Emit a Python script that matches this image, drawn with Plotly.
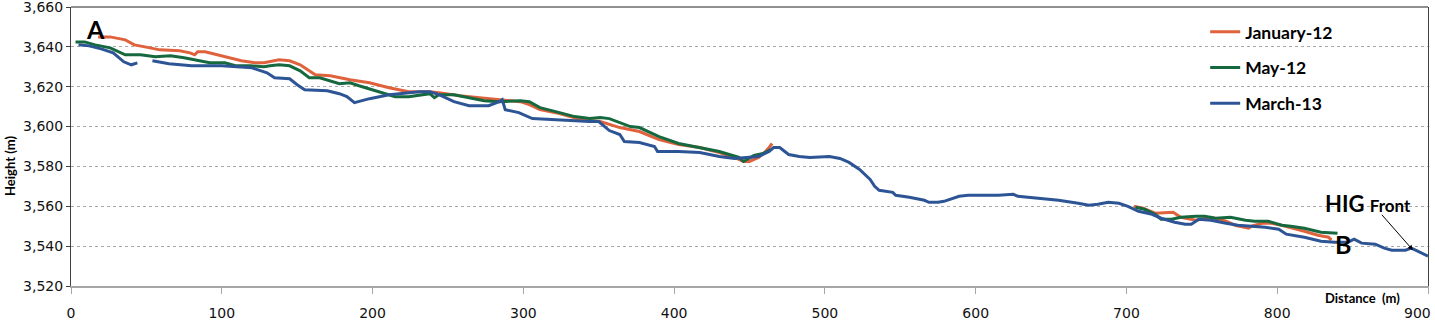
import plotly.graph_objects as go

# ---- data ----
jan_x = [18, 26, 36, 42, 49, 59, 72, 79, 82, 84, 89, 99, 113, 122, 128, 138, 145, 152, 157, 162,
         172, 185, 198, 211, 224, 238, 244, 258, 271, 284, 298, 304, 311, 324, 338, 351, 364, 377,
         390, 403, 417, 430, 440, 446, 450, 456, 460, 463, 465,
         None,
         705, 711, 719, 726, 731, 736, 746, 756, 766, 772, 781, 783, 790, 796, 803, 818, 827, 834, 836]
jan_y = [3645, 3645, 3643.5, 3641, 3640, 3638.5, 3638, 3637, 3636, 3637.5, 3637.5, 3635.5, 3633, 3632,
         3632, 3633.5, 3633, 3631, 3628.5, 3626, 3625.5, 3623.5, 3622, 3619.5, 3617.5, 3617.5, 3617,
         3615.5, 3614.5, 3613.5, 3612.5, 3611, 3608.5, 3606.5, 3603.5, 3602.5, 3599.5, 3597.5, 3593.5,
         3591, 3589.5, 3587, 3584.5, 3582.5, 3582.5, 3584.5, 3587, 3589.5, 3591.5,
         None,
         3560, 3559, 3556.5, 3557, 3557, 3554.5, 3553, 3554.5, 3552.5, 3550.5, 3549, 3550, 3551.5,
         3551.5, 3550.5, 3547.5, 3545.5, 3544.5, 3543]

may_x = [3, 9, 16, 26, 36, 46, 56, 66, 75, 82, 92, 102, 109, 119, 128, 132, 138, 145, 152, 158, 165,
         178, 185, 191, 205, 215, 224, 234, 238, 241, 244, 254, 264, 274, 284, 298, 304, 311, 324, 334,
         344, 351, 357, 364, 371, 377, 390, 403, 417, 430, 443, 446, 453, 459, 464,
         None,
         706, 712, 719, 723, 730, 736, 746, 752, 759, 766, 769, 779, 785, 794, 803, 809, 818, 829, 840]
may_y = [3642.5, 3642.5, 3641, 3639.5, 3636, 3636, 3635, 3635.5, 3634.5, 3633.5, 3632, 3632, 3630.5,
         3630.5, 3630, 3630.5, 3631, 3630.5, 3628, 3624.5, 3624.5, 3621.5, 3622, 3620.5, 3617.5, 3615,
         3615, 3616, 3616.5, 3614.5, 3616, 3616, 3614.5, 3613, 3612.5, 3613, 3612.5, 3609.5, 3607, 3605,
         3604, 3604.5, 3604, 3602, 3600, 3599.5, 3595, 3591.5, 3589.5, 3587.5, 3584.5, 3582.5, 3585.5,
         3586.5, 3588.5,
         None,
         3559.5, 3558.5, 3556, 3553.5, 3553.5, 3554.5, 3555, 3555, 3554, 3554.5, 3554.5, 3553, 3552.5,
         3552.5, 3550.5, 3550, 3549, 3547, 3546.5]

mar_x = [5, 12, 20, 28, 35, 40, 44,
         None,
         54, 65, 80, 100, 120, 130, 135, 145, 150, 155, 170, 178, 183, 188, 198, 211, 231, 238, 244,
         254, 264, 277, 284, 286, 288, 297, 306, 317, 330, 344, 350, 357, 364, 367, 377, 387, 389, 403,
         417, 430, 440, 446, 456, 463, 466, 470, 476, 483, 490, 503, 510, 516, 523, 530, 533, 536, 543,
         545, 547, 556, 566, 569, 575, 579, 589, 595, 615, 625, 628, 642, 655, 668, 675, 681, 688, 695,
         701, 708, 717, 723, 732, 739, 743, 748, 756, 766, 774, 783, 792, 801, 806, 818, 829, 838, 847,
         851, 856, 865, 871, 876, 885, 889, 900]
mar_y = [3641, 3640.5, 3639, 3637, 3632.5, 3631, 3632,
         None,
         3633, 3631.5, 3630.5, 3630.5, 3629.5, 3627, 3624.5, 3624, 3621, 3618.5, 3618, 3616.5, 3615,
         3612, 3614, 3616, 3617.5, 3617.5, 3616, 3612.5, 3610.5, 3610.5, 3612.5, 3613.5, 3608.5, 3607,
         3604, 3603.5, 3603, 3602.5, 3602.5, 3598, 3596, 3592.5, 3592, 3590, 3587.5, 3587.5, 3587, 3585,
         3584, 3584.5, 3585, 3587.5, 3589.5, 3589.5, 3586, 3585, 3584.5, 3585, 3584, 3582, 3578.5,
         3573.5, 3570, 3568, 3567, 3567, 3565.5, 3564.5, 3563, 3562, 3562, 3562.5, 3565, 3565.5, 3565.5,
         3566, 3565, 3564, 3563, 3561.5, 3560.5, 3561, 3562, 3561.5, 3560, 3557.5, 3556, 3554, 3552,
         3551, 3551, 3553.5, 3553, 3551.5, 3550.5, 3550, 3549.5, 3548.5, 3546, 3544.5, 3542.5, 3542,
         3542, 3543.5, 3541.5, 3541, 3539, 3538, 3538, 3539, 3535]

series_names = ["January-12", "May-12", "March-13"]
series_colors = ["#E0623C", "#16693F", "#2D5595"]

y_ticks = [3520, 3540, 3560, 3580, 3600, 3620, 3640, 3660]
x_ticks = [0, 100, 200, 300, 400, 500, 600, 700, 800, 900]
# last label (900) is drawn separately, nudged left so it stays inside the page
x_tick_labels = ["0", "100", "200", "300", "400", "500", "600", "700", "800", ""]
last_x_label = "900"

fig = go.Figure()
for i, (xs, ys) in enumerate([(jan_x, jan_y), (may_x, may_y), (mar_x, mar_y)]):
    fig.add_trace(go.Scatter(
        x=xs, y=ys, mode="lines", name=series_names[i], legendgroup=series_names[i],
        line=dict(color=series_colors[i], width=3), connectgaps=False))

bold = dict(family="Lato", weight="bold", color="black")
tickfont = dict(family="DejaVu Sans", size=14, color="#111")

fig.update_layout(
    width=1435, height=322,
    margin=dict(l=71, r=7, t=7, b=36, autoexpand=False),
    paper_bgcolor="white", plot_bgcolor="white",
    showlegend=True,
    legend=dict(x=0.8358, y=0.975, xanchor="left", yanchor="top",
                font=dict(family="Lato", weight="bold", size=17.5, color="black"),
                bgcolor="rgba(0,0,0,0)", tracegroupgap=10, itemwidth=30),
    xaxis=dict(range=[0, 900], tickvals=x_ticks, ticktext=x_tick_labels,
               showgrid=False, zeroline=False,
               showline=True, linecolor="#a6a6a6", linewidth=2, automargin=False,
               ticks="outside", ticklen=6, tickcolor="#a6a6a6", tickwidth=1,
               ticklabelstandoff=7, ticklabeloverflow="allow", tickfont=tickfont),
    yaxis=dict(range=[3520, 3660], tickvals=y_ticks, tickformat=",", automargin=False,
               showgrid=True, gridcolor="#a8a8a8", gridwidth=1, griddash="3px,3px",
               zeroline=False, showline=True, linecolor="#404040", linewidth=1, mirror=True,
               ticks="outside", ticklen=4, tickcolor="#404040", ticklabeloverflow="allow",
               tickfont=tickfont),
)

fig.add_shape(type="line", xref="paper", yref="paper", x0=0, x1=1, y0=1, y1=1,
              line=dict(color="#222", width=1))

fig.add_annotation(text=last_x_label, xref="paper", yref="paper", x=1.0035, y=-0.0968,
                   xanchor="right", yanchor="middle", showarrow=False, font=tickfont)
fig.add_annotation(text="Height (m)", xref="paper", yref="paper", x=-0.045, y=0.43,
                   xanchor="center", yanchor="middle",
                   textangle=-90, showarrow=False, font=dict(size=13, **bold))
fig.add_annotation(text="Distance  (m)", xref="paper", yref="paper", x=0.9805, y=-0.043,
                   xanchor="right", yanchor="middle", showarrow=False, font=dict(size=13, **bold))
fig.add_annotation(text="A", x=16, y=3649, xanchor="center", yanchor="middle",
                   showarrow=False, font=dict(size=25, **bold))
fig.add_annotation(text="B", x=843.5, y=3541, xanchor="center", yanchor="middle",
                   showarrow=False, font=dict(size=25, **bold))
fig.add_annotation(text="HIG <span style='font-size:17px'>Front</span>", x=860.5, y=3561.5,
                   xanchor="center", yanchor="middle",
                   showarrow=False, font=dict(size=22, **bold))
fig.add_annotation(text="", x=890, y=3538, ax=868.5, ay=3556.5, axref="x", ayref="y",
                   showarrow=True, arrowhead=2, arrowsize=1, arrowwidth=1, arrowcolor="black",
                   startstandoff=0, standoff=0)

fig.write_html("out.html")
